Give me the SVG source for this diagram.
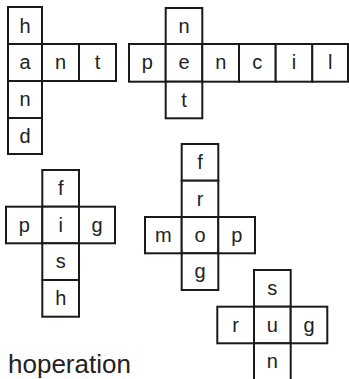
<svg xmlns="http://www.w3.org/2000/svg" width="349" height="379" viewBox="0 0 349 379">
<style>
.c{fill:#fff;stroke:#1a1a1a;stroke-width:2}
.t{font-family:"Liberation Sans",Arial,sans-serif;font-size:20px;fill:#222;text-anchor:middle}
.w{font-family:"Liberation Sans",Arial,sans-serif;font-size:26px;fill:#222}
</style>
<rect width="349" height="379" fill="#fff"/>
<g id="hand">
<rect class="c" x="8" y="7" width="34" height="37"/>
<rect class="c" x="8" y="44" width="34" height="37"/>
<rect class="c" x="42" y="44" width="37" height="37"/>
<rect class="c" x="79" y="44" width="37" height="37"/>
<rect class="c" x="8" y="81" width="34" height="37"/>
<rect class="c" x="8" y="118" width="34" height="36"/>
<text class="t" x="25" y="33">h</text>
<text class="t" x="25" y="69">a</text>
<text class="t" x="60.5" y="69">n</text>
<text class="t" x="97.5" y="69">t</text>
<text class="t" x="25" y="106">n</text>
<text class="t" x="25" y="143">d</text>
</g>
<g id="pencil">
<rect class="c" x="165.7" y="8" width="36.6" height="36"/>
<rect class="c" x="129" y="44" width="36.7" height="37.7"/>
<rect class="c" x="165.7" y="44" width="36.6" height="37.7"/>
<rect class="c" x="202.3" y="44" width="36.7" height="37.7"/>
<rect class="c" x="239" y="44" width="36.7" height="37.7"/>
<rect class="c" x="275.7" y="44" width="36.6" height="37.7"/>
<rect class="c" x="312.3" y="44" width="35.7" height="37.7"/>
<rect class="c" x="165.7" y="81.7" width="36.6" height="36.6"/>
<text class="t" x="184" y="33">n</text>
<text class="t" x="147.3" y="69">p</text>
<text class="t" x="184" y="69">e</text>
<text class="t" x="220.7" y="69">n</text>
<text class="t" x="257.3" y="69">c</text>
<text class="t" x="294" y="69">i</text>
<text class="t" x="330.2" y="69">l</text>
<text class="t" x="184" y="107">t</text>
</g>
<g id="fish">
<rect class="c" x="42.3" y="170" width="36.7" height="36.7"/>
<rect class="c" x="6" y="206.7" width="36.3" height="36.6"/>
<rect class="c" x="42.3" y="206.7" width="36.7" height="36.6"/>
<rect class="c" x="79" y="206.7" width="36" height="36.6"/>
<rect class="c" x="42.3" y="243.3" width="36.7" height="36.7"/>
<rect class="c" x="42.3" y="280" width="36.7" height="36.7"/>
<text class="t" x="60.7" y="195">f</text>
<text class="t" x="24.2" y="231.5">p</text>
<text class="t" x="60.7" y="231.5">i</text>
<text class="t" x="97" y="231.5">g</text>
<text class="t" x="60.7" y="268">s</text>
<text class="t" x="60.7" y="305">h</text>
</g>
<g id="frog">
<rect class="c" x="181.7" y="144" width="36.6" height="36.7"/>
<rect class="c" x="181.7" y="180.7" width="36.6" height="36.3"/>
<rect class="c" x="145" y="217" width="36.7" height="36.3"/>
<rect class="c" x="181.7" y="217" width="36.6" height="36.3"/>
<rect class="c" x="218.3" y="217" width="36.7" height="36.3"/>
<rect class="c" x="181.7" y="253.3" width="36.6" height="36.7"/>
<text class="t" x="200" y="169">f</text>
<text class="t" x="200" y="205.5">r</text>
<text class="t" x="163.3" y="241.5">m</text>
<text class="t" x="200" y="241.5">o</text>
<text class="t" x="236.7" y="241.5">p</text>
<text class="t" x="200" y="278">g</text>
</g>
<g id="rug">
<rect class="c" x="254" y="270" width="36.7" height="36.7"/>
<rect class="c" x="217.3" y="306.7" width="36.7" height="36.6"/>
<rect class="c" x="254" y="306.7" width="36.7" height="36.6"/>
<rect class="c" x="290.7" y="306.7" width="36.6" height="36.6"/>
<rect class="c" x="254" y="343.3" width="36.7" height="37.7"/>
<text class="t" x="272.3" y="295">s</text>
<text class="t" x="235.7" y="331.5">r</text>
<text class="t" x="272.3" y="331.5">u</text>
<text class="t" x="309" y="331.5">g</text>
<text class="t" x="272.3" y="368">n</text>
</g>
<text class="w" x="8" y="373">hoperation</text>
</svg>
